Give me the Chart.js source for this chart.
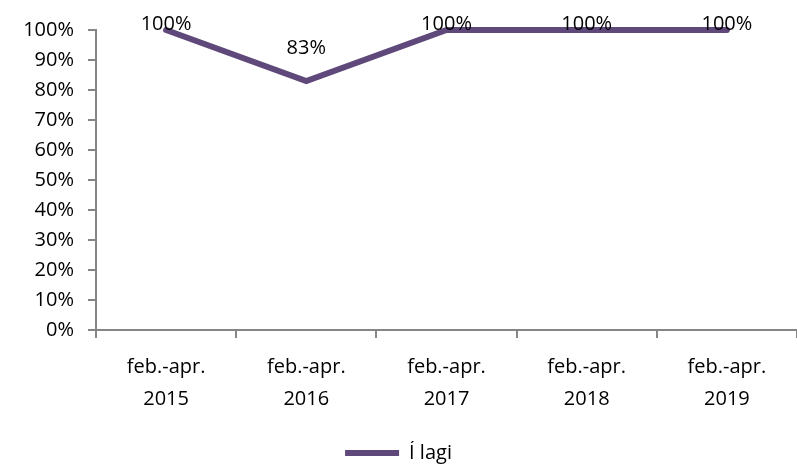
<!DOCTYPE html>
<html>
<head>
<meta charset="utf-8">
<script src="https://cdn.jsdelivr.net/npm/chart.js@4"></script>
<style>
    html, body { margin: 0; padding: 0; background: #fff; }
    #wrap { width: 797px; height: 467px; }
</style>
</head>
<body>
<div id="wrap"><canvas id="chartLagi"></canvas></div>
<script>
const periods = ['feb.-apr.', 'feb.-apr.', 'feb.-apr.', 'feb.-apr.', 'feb.-apr.'];
const years = ['2015', '2016', '2017', '2018', '2019'];
const iLagi = [100, 83, 100, 100, 100];
const yTicks = [0, 10, 20, 30, 40, 50, 60, 70, 80, 90, 100];

const fontFamily = '"Open Sans", Lato, sans-serif';
const fontSize = 20;
const purple = '#5F497A';
const axisGrey = '#868686';

// labels above the points, pushed down when they would leave the canvas
const valueLabels = {
    id: 'valueLabels',
    afterDatasetsDraw(chart) {
        const ctx = chart.ctx;
        const meta = chart.getDatasetMeta(0);
        ctx.save();
        ctx.font = fontSize + 'px ' + fontFamily;
        ctx.fillStyle = '#000';
        ctx.textAlign = 'center';
        ctx.textBaseline = 'middle';
        meta.data.forEach((pt, i) => {
            const y = Math.max(pt.y - 33, 24);
            ctx.fillText(iLagi[i] + '%', pt.x, y);
        });
        ctx.restore();
    }
};

new Chart(document.getElementById('chartLagi'), {
    type: 'line',
    data: {
        labels: periods.map((p, i) => [p, years[i]]),
        datasets: [{
            label: 'Í lagi',
            data: iLagi,
            borderColor: purple,
            backgroundColor: purple,
            borderWidth: 6,
            borderCapStyle: 'round',
            pointRadius: 0,
            tension: 0,
            clip: false
        }]
    },
    options: {
        responsive: true,
        maintainAspectRatio: false,
        animation: false,
        layout: {
            padding: { top: 30, right: 0, left: 0, bottom: -6 }
        },
        plugins: {
            legend: {
                position: 'bottom',
                labels: {
                    usePointStyle: true,
                    pointStyle: 'line',
                    pointStyleWidth: 54,
                    color: '#000',
                    padding: 2,
                    font: { size: fontSize, family: fontFamily }
                }
            },
            tooltip: { enabled: false }
        },
        scales: {
            y: {
                min: 0,
                max: 100,
                afterFit: scale => { scale.width = 96; },
                afterBuildTicks: scale => { scale.ticks = yTicks.map(v => ({ value: v })); },
                ticks: {
                    color: '#000',
                    padding: 14,
                    font: { size: fontSize, family: fontFamily },
                    callback: v => v + '%'
                },
                grid: {
                    drawOnChartArea: false,
                    color: axisGrey,
                    lineWidth: 2,
                    tickLength: 8
                },
                border: { color: axisGrey, width: 2 }
            },
            x: {
                offset: true,
                afterFit: scale => { scale.height = 111; },
                ticks: {
                    color: '#000',
                    padding: 13,
                    maxRotation: 0,
                    autoSkip: false,
                    font: { size: fontSize, family: fontFamily, lineHeight: 1.6 }
                },
                grid: {
                    offset: true,
                    drawOnChartArea: false,
                    color: axisGrey,
                    lineWidth: 2,
                    tickLength: 8
                },
                border: { color: axisGrey, width: 2 }
            }
        }
    },
    plugins: [valueLabels]
});
</script>
</body>
</html>
